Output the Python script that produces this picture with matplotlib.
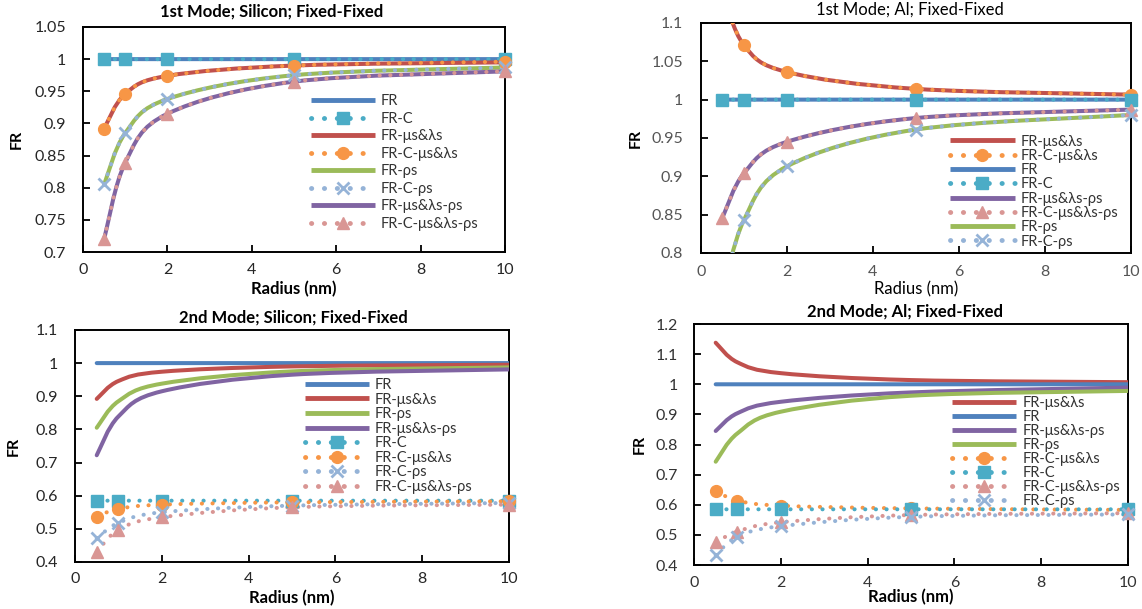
import numpy as np
import matplotlib
matplotlib.use("Agg")
import matplotlib.pyplot as plt
from matplotlib.path import Path
from matplotlib.patches import PathPatch
from matplotlib.lines import Line2D

plt.rcParams["font.family"] = ["Lato", "DejaVu Sans"]

radius_nm = [0.5, 1, 2, 5, 10]

# 1st mode, silicon
si1_fr = [1.0, 1.0, 1.0, 1.0, 1.0]
si1_fr_c = [1.0, 1.0, 1.0, 1.0, 1.0]
si1_fr_mu = [0.892, 0.946, 0.974, 0.990, 0.995]
si1_fr_c_mu = [0.892, 0.946, 0.974, 0.990, 0.996]
si1_fr_rho = [0.805, 0.885, 0.938, 0.975, 0.987]
si1_fr_c_rho = [0.805, 0.885, 0.938, 0.975, 0.987]
si1_fr_mu_rho = [0.720, 0.839, 0.915, 0.965, 0.981]
si1_fr_c_mu_rho = [0.720, 0.839, 0.915, 0.965, 0.981]

# 1st mode, Al
al1_fr_mu = [1.140, 1.071, 1.036, 1.014, 1.0065]
al1_fr_c_mu = [1.140, 1.071, 1.036, 1.014, 1.0065]
al1_fr = [1.0, 1.0, 1.0, 1.0, 1.0]
al1_fr_c = [1.0, 1.0, 1.0, 1.0, 1.0]
al1_fr_mu_rho = [0.846, 0.904, 0.945, 0.976, 0.987]
al1_fr_c_mu_rho = [0.846, 0.904, 0.945, 0.976, 0.987]
al1_fr_rho = [0.745, 0.843, 0.913, 0.961, 0.980]
al1_fr_c_rho = [0.745, 0.843, 0.913, 0.961, 0.980]

# 2nd mode, silicon
si2_fr = [1.0, 1.0, 1.0, 1.0, 1.0]
si2_fr_mu = [0.892, 0.946, 0.974, 0.990, 0.995]
si2_fr_rho = [0.805, 0.885, 0.938, 0.975, 0.987]
si2_fr_mu_rho = [0.722, 0.839, 0.915, 0.965, 0.981]
si2_fr_c = [0.585, 0.585, 0.585, 0.585, 0.585]
si2_fr_c_mu = [0.537, 0.560, 0.573, 0.580, 0.583]
si2_fr_c_rho = [0.471, 0.518, 0.550, 0.570, 0.578]
si2_fr_c_mu_rho = [0.430, 0.497, 0.535, 0.565, 0.573]

# 2nd mode, Al
al2_fr_mu = [1.138, 1.073, 1.037, 1.014, 1.007]
al2_fr = [1.0, 1.0, 1.0, 1.0, 1.0]
al2_fr_mu_rho = [0.845, 0.904, 0.942, 0.973, 0.989]
al2_fr_rho = [0.743, 0.837, 0.909, 0.962, 0.978]
al2_fr_c_mu = [0.646, 0.614, 0.597, 0.588, 0.583]
al2_fr_c = [0.585, 0.585, 0.585, 0.585, 0.585]
al2_fr_c_mu_rho = [0.475, 0.511, 0.542, 0.566, 0.572]
al2_fr_c_rho = [0.433, 0.494, 0.529, 0.560, 0.568]

# series name -> (colour, dotted?, marker)
STYLE = {
    "FR": ("#4F81BD", False, None),
    "FR-C": ("#4BACC6", True, "s"),
    "FR-μs&λs": ("#C0504D", False, None),
    "FR-C-μs&λs": ("#F79646", True, "o"),
    "FR-ρs": ("#9BBB59", False, None),
    "FR-C-ρs": ("#95B3D7", True, "x"),
    "FR-μs&λs-ρs": ("#8064A2", False, None),
    "FR-C-μs&λs-ρs": ("#D99694", True, "^"),
}
DOTS = (0, (0.05, 2.6))
LW = 2.9
MS = 8.5


def smooth_path(x, y):
    """Excel-like smoothed line: cubic Bezier through the points."""
    pts = np.column_stack([x, y]).astype(float)
    ext = np.vstack([pts[0], pts, pts[-1]])
    verts = [pts[0]]
    codes = [Path.MOVETO]
    for i in range(len(pts) - 1):
        p0, p1, p2, p3 = ext[i], ext[i + 1], ext[i + 2], ext[i + 3]
        verts += [p1 + (p2 - p0) / 6, p2 - (p3 - p1) / 6, p2]
        codes += [Path.CURVE4] * 3
    return Path(verts, codes)


def draw_series(ax, name, y, ylim):
    color, dotted, marker = STYLE[name]
    patch = PathPatch(smooth_path(radius_nm, y), fill=False, edgecolor=color,
                      lw=LW, capstyle="round", joinstyle="round",
                      linestyle=DOTS if dotted else "-", zorder=3)
    ax.add_patch(patch)
    if marker:
        x = np.array(radius_nm)
        yy = np.array(y)
        keep = (yy >= ylim[0]) & (yy <= ylim[1])
        ax.plot(x[keep], yy[keep], ls="none", marker=marker, ms=MS,
                color=color, mec=color, mew=2 if marker == "x" else 1,
                clip_on=False, zorder=4)


def handle(name):
    color, dotted, marker = STYLE[name]
    return Line2D([], [], color=color, lw=LW + 0.6,
                  ls=DOTS if dotted else "-", dash_capstyle="round",
                  solid_capstyle="butt", marker=marker, ms=MS,
                  mew=2 if marker == "x" else 1)


panels = [
    dict(pos=[0.0727, 0.5862, 0.3695, 0.3695],
         title="1st Mode; Silicon; Fixed-Fixed", title_xy=(0.448, 1.067),
         ylim=(0.7, 1.05), yticks=[0.7, 0.75, 0.8, 0.85, 0.9, 0.95, 1, 1.05],
         ylabels=["0.7", "0.75", "0.8", "0.85", "0.9", "0.95", "1", "1.05"],
         series=[("FR", si1_fr), ("FR-C", si1_fr_c), ("FR-μs&λs", si1_fr_mu),
                 ("FR-C-μs&λs", si1_fr_c_mu), ("FR-ρs", si1_fr_rho),
                 ("FR-C-ρs", si1_fr_c_rho), ("FR-μs&λs-ρs", si1_fr_mu_rho),
                 ("FR-C-μs&λs-ρs", si1_fr_c_mu_rho)],
         leg=(0.54, 0.70), legspace=0.24, bold=True, tickcol="#262626",
         xlab_y=-0.13, ylab_x=-0.14, ypad=12, xpad=8),
    dict(pos=[0.6138, 0.5846, 0.3765, 0.3777],
         title="1st Mode; Al; Fixed-Fixed", title_xy=(0.487, 1.057),
         ylim=(0.8, 1.1), yticks=[0.8, 0.85, 0.9, 0.95, 1, 1.05, 1.1],
         ylabels=["0.8", "0.85", "0.9", "0.95", "1", "1.05", "1.1"],
         series=[("FR-μs&λs", al1_fr_mu), ("FR-C-μs&λs", al1_fr_c_mu),
                 ("FR", al1_fr), ("FR-C", al1_fr_c),
                 ("FR-μs&λs-ρs", al1_fr_mu_rho),
                 ("FR-C-μs&λs-ρs", al1_fr_c_mu_rho),
                 ("FR-ρs", al1_fr_rho), ("FR-C-ρs", al1_fr_c_rho)],
         leg=(0.58, 0.515), legspace=0.02, bold=False, tickcol="#555555",
         xlab_y=-0.122, ylab_x=-0.135, ypad=13, xpad=9),
    dict(pos=[0.0657, 0.0772, 0.380, 0.381],
         title="2nd Mode; Silicon; Fixed-Fixed", title_xy=(0.502, 1.052),
         ylim=(0.4, 1.1), yticks=[0.4, 0.5, 0.6, 0.7, 0.8, 0.9, 1, 1.1],
         ylabels=["0.4", "0.5", "0.6", "0.7", "0.8", "0.9", "1", "1.1"],
         series=[("FR", si2_fr), ("FR-μs&λs", si2_fr_mu), ("FR-ρs", si2_fr_rho),
                 ("FR-μs&λs-ρs", si2_fr_mu_rho), ("FR-C", si2_fr_c),
                 ("FR-C-μs&λs", si2_fr_c_mu), ("FR-C-ρs", si2_fr_c_rho),
                 ("FR-C-μs&λs-ρs", si2_fr_c_mu_rho)],
         leg=(0.53, 0.793), legspace=0.04, bold=True, tickcol="#262626",
         xlab_y=-0.12, ylab_x=-0.125, ypad=12, xpad=7),
    dict(pos=[0.6077, 0.0722, 0.380, 0.3957],
         title="2nd Mode; Al; Fixed-Fixed", title_xy=(0.486, 1.054),
         ylim=(0.4, 1.2), yticks=[0.4, 0.5, 0.6, 0.7, 0.8, 0.9, 1, 1.1, 1.2],
         ylabels=["0.4", "0.5", "0.6", "0.7", "0.8", "0.9", "1", "1.1", "1.2"],
         series=[("FR-μs&λs", al2_fr_mu), ("FR", al2_fr),
                 ("FR-μs&λs-ρs", al2_fr_mu_rho), ("FR-ρs", al2_fr_rho),
                 ("FR-C-μs&λs", al2_fr_c_mu), ("FR-C", al2_fr_c),
                 ("FR-C-μs&λs-ρs", al2_fr_c_mu_rho), ("FR-C-ρs", al2_fr_c_rho)],
         leg=(0.595, 0.70), legspace=0.0, bold=True, tickcol="#333333",
         xlab_y=-0.10, ylab_x=-0.11, ypad=11.5, xpad=8),
]

fig = plt.figure(figsize=(11.42, 6.09), dpi=100)

for p in panels:
    ax = fig.add_axes(p["pos"])
    weight = "bold" if p["bold"] else "normal"
    for name, y in p["series"]:
        draw_series(ax, name, y, p["ylim"])
    ax.set_xlim(0, 10)
    ax.set_ylim(*p["ylim"])
    ax.set_xticks([0, 2, 4, 6, 8, 10])
    ax.set_yticks(p["yticks"])
    ax.set_yticklabels(p["ylabels"])
    ax.tick_params(direction="in", length=5, width=1.3, labelsize=11.5,
                   labelcolor=p["tickcol"])
    ax.tick_params(axis="y", pad=p["ypad"])
    ax.tick_params(axis="x", pad=p["xpad"])
    for sp in ax.spines.values():
        sp.set_linewidth(1.4)
    ax.text(p["title_xy"][0], p["title_xy"][1], p["title"], transform=ax.transAxes,
            ha="center", va="center", fontsize=12, fontweight=weight)
    ax.set_xlabel("Radius (nm)", fontsize=12, fontweight=weight)
    ax.xaxis.set_label_coords(0.5, p["xlab_y"])
    ax.set_ylabel("FR", fontsize=11.5, fontweight="bold")
    ax.yaxis.set_label_coords(p["ylab_x"], 0.5)
    names = [n for n, _ in p["series"]]
    ax.legend([handle(n) for n in names], names, loc="upper left",
              bbox_to_anchor=p["leg"], frameon=False, fontsize=10.5,
              borderpad=0, borderaxespad=0, handlelength=4.4,
              handletextpad=0.4, labelspacing=p["legspace"], numpoints=1,
              labelcolor="#333333")

fig.savefig("out.png", dpi=100)
